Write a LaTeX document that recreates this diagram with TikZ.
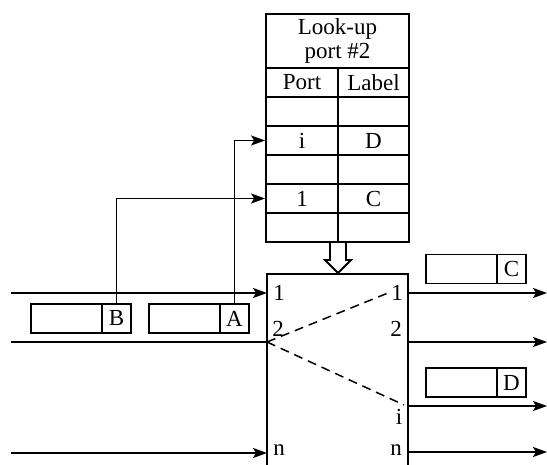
\documentclass[tikz,border=0pt]{standalone}
\usepackage{fontspec}
\setmainfont{Liberation Serif}
\usetikzlibrary{arrows.meta}
\begin{document}
\begin{tikzpicture}[x=1pt,y=-1pt, line width=1.8pt,
  txt/.style={font=\fontsize{23}{24}\selectfont, inner sep=0pt},
  cell/.style={draw, txt, minimum height=29pt, anchor=center},
  pcol/.style={cell, minimum width=72pt},
  lcol/.style={cell, minimum width=71pt},
  arr/.style={-{Stealth[length=14pt,width=10pt,inset=3pt]}},
  pkt/.style={draw, minimum width=71pt, minimum height=29pt, inner sep=0pt, outer sep=0pt, anchor=west},
  pktl/.style={draw, txt, minimum width=29pt, minimum height=29pt, outer sep=0pt, anchor=west},
  lbl/.style={txt},
  dsh/.style={dash pattern=on 9pt off 6pt, line width=1.5pt}]
\useasboundingbox (0,0) rectangle (547,465);
\clip (0,0) rectangle (547,465);
% look-up table
\node[draw, txt, minimum width=143pt, minimum height=54pt, align=center] (head) at (337.5,41) {Look-up\\port \#2};
\node[pcol] (p0) at (302,82.5) {Port};   \node[lcol] (l0) at (373.5,82.5) {Label};
\node[pcol] (p1) at (302,111.5) {};      \node[lcol] (l1) at (373.5,111.5) {};
\node[pcol] (p2) at (302,140.5) {i};     \node[lcol] (l2) at (373.5,140.5) {D};
\node[pcol] (p3) at (302,169.5) {};      \node[lcol] (l3) at (373.5,169.5) {};
\node[pcol] (p4) at (302,198.5) {1};     \node[lcol] (l4) at (373.5,198.5) {C};
\node[pcol] (p5) at (302,227.5) {};      \node[lcol] (l5) at (373.5,227.5) {};
% hollow arrow
\draw (330,242) -- (330,260) -- (325,260) -- (338,273) -- (351,260) -- (346,260) -- (346,242);
% switch box
\node[draw, minimum width=141pt, minimum height=210pt, anchor=north west, inner sep=0pt, outer sep=0pt] (sw) at (267,274) {};
% inputs
\coordinate (in1) at (11,293);
\coordinate (in2) at (11,342);
\coordinate (inn) at (11,453);
\draw[arr] (in1) -- (in1 -| sw.west);
\draw (in2) -- (in2 -| sw.west);
\draw[arr] (inn) -- (inn -| sw.west);
% outputs
\coordinate (o1) at (547,293);
\coordinate (o2) at (547,342);
\coordinate (oi) at (547,406);
\coordinate (on) at (547,452);
\draw[arr] (o1 -| sw.east) -- (o1);
\draw[arr] (o2 -| sw.east) -- (o2);
\draw[arr] (oi -| sw.east) -- (oi);
\draw[arr] (on -| sw.east) -- (on);
% dashed mapping
\coordinate (d1) at (388,293);
\coordinate (di) at (404,405);
\draw[dsh] (in2 -| sw.west) -- (d1);
\draw[dsh] (in2 -| sw.west) -- (di);
% port labels
\node[lbl] (L1) at (279,293) {1};
\node[lbl] (L2) at (278,329) {2};
\node[lbl] (Ln) at (279,450) {n};
\node[lbl] (R1) at (397,293) {1};
\node[lbl] (R2) at (396,329) {2};
\node[lbl] (Ri) at (399,417) {i};
\node[lbl] (Rn) at (396,450) {n};
% packets
\node[pkt] (bb) at (31,318.5) {};  \node[pktl] (bl) at (bb.east) {B};
\node[pkt] (ab) at (149,318.5) {}; \node[pktl] (al) at (ab.east) {A};
\node[pkt] (cb) at (426,269) {};   \node[pktl] (cl) at (cb.east) {C};
\node[pkt] (db) at (426,382.5) {}; \node[pktl] (dl) at (db.east) {D};
% label look-ups
\draw[arr] (bl.north) |- (p4.west);
\draw[arr] (al.north) |- (p2.west);
\end{tikzpicture}
\end{document}
